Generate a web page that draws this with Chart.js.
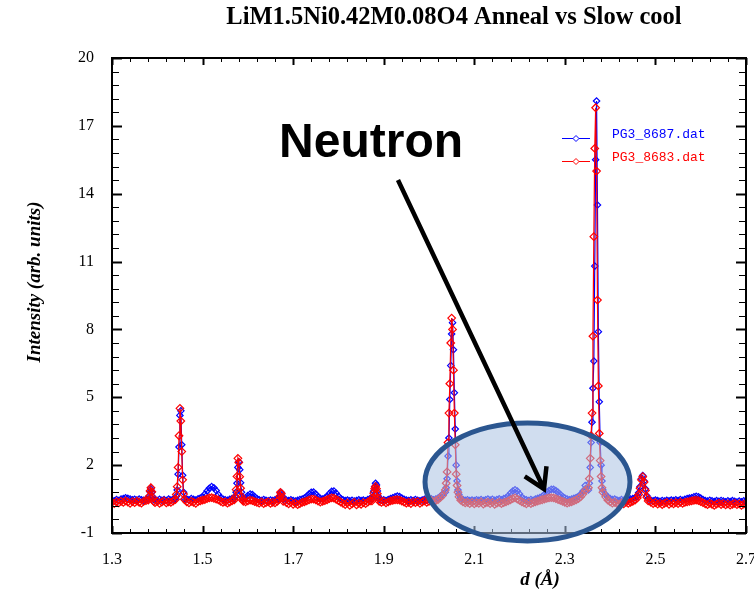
<!DOCTYPE html>
<html>
<head>
<meta charset="utf-8">
<title>LiM1.5Ni0.42M0.08O4 Anneal vs Slow cool</title>
<script src="https://cdn.jsdelivr.net/npm/chart.js@4.4.1/dist/chart.umd.min.js"></script>
<style>
  html, body { margin: 0; padding: 0; background: #fff; }
  #chart { display: block; }
</style>
</head>
<body>
<canvas id="chart" width="754" height="593"></canvas>
<script>
// d-spacing (Å) shared by both runs; finer steps across the Bragg peaks
const dSpacing = [
  1.300,1.305,1.310,1.315,1.320,1.325,1.330,1.335,1.340,1.345,1.350,1.355,1.360,1.365,1.370,1.375,
  1.380,1.382,1.384,1.386,1.388,1.390,1.392,
  1.395,1.400,1.405,1.410,1.415,1.420,1.425,1.430,1.435,
  1.440,1.442,1.444,1.446,1.448,1.450,1.452,1.454,1.456,1.458,1.460,
  1.465,1.470,1.475,1.480,1.485,1.490,1.495,1.500,1.505,1.510,1.515,1.520,1.525,1.530,1.535,1.540,1.545,1.550,1.555,1.560,1.565,
  1.570,1.572,1.574,1.576,1.578,1.580,1.582,1.584,1.586,1.588,1.590,
  1.595,1.600,1.605,1.610,1.615,1.620,1.625,1.630,1.635,1.640,1.645,1.650,1.655,1.660,1.665,
  1.668,1.670,1.672,1.674,1.676,1.678,
  1.685,1.690,1.695,1.700,1.705,1.710,1.715,1.720,1.725,1.730,1.735,1.740,1.745,1.750,1.755,1.760,1.765,1.770,1.775,1.780,1.785,1.790,1.795,1.800,1.805,1.810,1.815,1.820,1.825,1.830,1.835,1.840,1.845,1.850,1.855,1.860,1.865,1.870,
  1.874,1.876,1.878,1.880,1.882,1.884,1.886,1.888,1.890,
  1.895,1.900,1.905,1.910,1.915,1.920,1.925,1.930,1.935,1.940,1.945,1.950,1.955,1.960,1.965,1.970,1.975,1.980,1.985,1.990,1.995,2.000,2.005,2.010,2.015,2.020,2.025,2.030,
  2.036,2.038,2.040,2.042,2.044,2.046,2.048,2.050,2.052,2.054,2.056,2.058,2.060,2.062,2.064,2.066,
  2.070,2.075,2.080,2.085,2.090,2.095,2.100,2.105,2.110,2.115,2.120,2.125,2.130,2.135,2.140,2.145,2.150,2.155,2.160,2.165,2.170,2.175,2.180,2.185,2.190,2.195,2.200,2.205,
  2.210,2.215,2.220,2.225,2.230,2.235,2.240,2.245,2.250,2.255,2.260,2.265,2.270,2.275,2.280,2.285,2.290,2.295,2.300,2.305,2.310,2.315,2.320,2.325,2.330,2.335,2.340,2.345,
  2.352,2.354,2.356,2.358,2.360,2.362,2.364,2.366,2.368,2.370,2.372,2.374,2.376,2.378,2.380,2.382,2.384,
  2.390,2.395,2.400,2.405,2.410,2.415,2.420,2.425,2.430,2.435,2.440,2.445,2.450,2.455,
  2.460,2.463,2.466,2.469,2.472,2.475,2.478,2.481,2.484,
  2.490,2.495,2.500,2.505,2.510,2.515,2.520,2.525,2.530,2.535,2.540,2.545,2.550,2.555,2.560,2.565,2.570,2.575,2.580,2.585,2.590,2.595,2.600,2.605,2.610,2.615,2.620,2.625,2.630,2.635,2.640,2.645,2.650,2.655,2.660,2.665,2.670,2.675,2.680,2.685,2.690,2.695,2.700
];

// PG3_8687.dat (blue)
const pg3_8687 = [
  0.45,0.42,0.48,0.44,0.50,0.52,0.56,0.53,0.50,0.47,0.49,0.46,0.50,0.47,0.45,0.48,
  0.50,0.62,0.82,0.95,0.80,0.60,0.47,
  0.46,0.43,0.49,0.45,0.48,0.44,0.50,0.46,0.49,
  0.52,0.62,0.90,1.60,2.80,4.20,4.40,2.90,1.55,0.80,0.52,
  0.50,0.47,0.52,0.49,0.46,0.51,0.55,0.60,0.72,0.86,0.98,1.05,1.00,0.88,0.70,0.56,0.50,0.47,0.45,0.49,0.52,
  0.52,0.62,0.80,1.20,1.90,2.15,1.80,1.22,0.80,0.58,0.50,
  0.55,0.66,0.72,0.70,0.60,0.52,0.47,0.44,0.48,0.45,0.42,0.46,0.43,0.47,0.50,
  0.52,0.62,0.76,0.78,0.62,0.48,
  0.46,0.43,0.47,0.44,0.41,0.45,0.48,0.50,0.55,0.62,0.72,0.80,0.81,0.72,0.60,0.53,0.50,0.55,0.62,0.74,0.84,0.86,0.76,0.62,0.52,0.47,0.43,0.46,0.42,0.45,0.41,0.44,0.47,0.43,0.46,0.42,0.48,0.52,
  0.50,0.62,0.85,1.05,1.20,1.12,0.86,0.62,0.48,
  0.45,0.47,0.44,0.48,0.52,0.56,0.60,0.63,0.61,0.55,0.49,0.46,0.43,0.47,0.44,0.48,0.45,0.42,0.46,0.49,0.45,0.48,0.51,0.47,0.50,0.55,0.62,0.72,
  0.80,1.00,1.40,2.40,3.20,4.90,6.40,7.80,8.30,7.10,5.20,3.60,2.00,1.30,0.90,0.70,
  0.55,0.48,0.45,0.47,0.44,0.46,0.43,0.47,0.45,0.48,0.44,0.47,0.50,0.46,0.49,0.45,0.48,0.51,0.47,0.52,0.56,0.64,0.76,0.86,0.91,0.86,0.72,0.58,
  0.50,0.47,0.44,0.48,0.45,0.50,0.53,0.57,0.62,0.70,0.80,0.88,0.93,0.93,0.88,0.80,0.70,0.61,0.55,0.50,0.47,0.50,0.53,0.57,0.62,0.70,0.85,1.10,
  0.90,1.20,1.90,3.00,3.90,5.40,6.60,10.80,15.50,18.10,13.50,7.90,4.80,3.00,2.00,1.30,0.90,
  0.70,0.58,0.52,0.48,0.50,0.46,0.44,0.48,0.45,0.43,0.47,0.50,0.52,0.56,
  0.62,0.78,1.05,1.40,1.54,1.30,0.95,0.65,0.50,
  0.45,0.42,0.46,0.43,0.40,0.44,0.41,0.45,0.42,0.46,0.43,0.47,0.44,0.48,0.45,0.49,0.52,0.55,0.56,0.60,0.62,0.60,0.54,0.48,0.44,0.41,0.45,0.42,0.39,0.43,0.40,0.44,0.41,0.38,0.42,0.39,0.43,0.40,0.37,0.41,0.38,0.42,0.40
];

// PG3_8683.dat (red)
const pg3_8683 = [
  0.36,0.30,0.38,0.33,0.40,0.35,0.42,0.37,0.31,0.39,0.34,0.41,0.36,0.32,0.40,0.43,
  0.45,0.62,0.86,1.00,0.82,0.55,0.40,
  0.34,0.39,0.31,0.37,0.42,0.33,0.38,0.35,0.41,
  0.48,0.70,1.05,1.90,3.30,4.51,3.95,2.60,1.35,0.72,0.48,
  0.38,0.33,0.40,0.36,0.31,0.39,0.42,0.45,0.48,0.52,0.55,0.56,0.53,0.50,0.46,0.40,0.35,0.38,0.32,0.37,0.42,
  0.46,0.60,0.92,1.50,2.30,2.12,1.49,0.98,0.62,0.46,0.40,
  0.38,0.42,0.45,0.43,0.39,0.35,0.32,0.37,0.30,0.34,0.38,0.31,0.36,0.33,0.40,
  0.46,0.62,0.80,0.74,0.55,0.40,
  0.34,0.29,0.36,0.27,0.32,0.25,0.30,0.35,0.38,0.42,0.46,0.50,0.50,0.46,0.41,0.37,0.40,0.43,0.47,0.52,0.55,0.54,0.49,0.43,0.37,0.31,0.26,0.33,0.22,0.29,0.35,0.24,0.31,0.27,0.34,0.30,0.37,0.42,
  0.42,0.56,0.76,0.96,1.06,0.96,0.74,0.55,0.40,
  0.35,0.40,0.33,0.38,0.42,0.44,0.46,0.47,0.45,0.41,0.37,0.32,0.36,0.30,0.38,0.34,0.39,0.31,0.37,0.42,0.35,0.40,0.44,0.38,0.43,0.48,0.56,0.66,
  0.90,1.20,1.70,3.00,4.30,5.60,7.40,8.50,8.00,6.20,4.30,2.90,1.60,1.10,0.80,0.60,
  0.45,0.38,0.33,0.36,0.30,0.35,0.29,0.34,0.31,0.37,0.28,0.33,0.36,0.30,0.35,0.27,0.32,0.36,0.30,0.34,0.38,0.42,0.47,0.52,0.55,0.50,0.44,0.38,
  0.33,0.29,0.35,0.30,0.34,0.38,0.41,0.44,0.47,0.50,0.53,0.55,0.56,0.55,0.52,0.48,0.44,0.40,0.36,0.32,0.35,0.38,0.42,0.46,0.52,0.60,0.72,0.88,
  1.00,1.40,2.30,3.30,4.30,7.70,12.10,16.00,17.80,15.00,9.30,5.50,3.40,2.20,1.50,1.00,0.80,
  0.60,0.45,0.38,0.32,0.36,0.30,0.28,0.33,0.29,0.35,0.31,0.36,0.40,0.45,
  0.55,0.70,0.98,1.35,1.49,1.25,0.88,0.58,0.42,
  0.36,0.30,0.34,0.28,0.32,0.26,0.31,0.35,0.27,0.33,0.29,0.34,0.30,0.36,0.31,0.35,0.38,0.40,0.42,0.44,0.45,0.43,0.39,0.34,0.29,0.25,0.31,0.27,0.22,0.28,0.32,0.26,0.30,0.24,0.29,0.23,0.27,0.31,0.25,0.29,0.22,0.28,0.26
];

const xTicks = [1.3, 1.5, 1.7, 1.9, 2.1, 2.3, 2.5, 2.7];
const yTicks = [-1, 2, 5, 8, 11, 14, 17, 20];
const seriesNames = ["PG3_8687.dat", "PG3_8683.dat"];

const BLUE = "#0000ff";
const RED = "#ff0000";
const SERIF = '"Liberation Serif", "Times New Roman", serif';

function toPoints(values) {
  return dSpacing.map((d, i) => ({ x: d, y: values[i] }));
}

// inward ticks on all four sides + black frame
const frameTicks = {
  id: "frameTicks",
  afterDatasetsDraw(chart) {
    const { ctx, chartArea: a, scales } = chart;
    const x = scales.x, y = scales.y;
    ctx.save();
    ctx.strokeStyle = "#000";
    for (let i = 0; i <= 35; i++) {
      const major = i % 5 === 0;
      const len = major ? 7 : 4;
      const px = Math.round(x.getPixelForValue(1.3 + i * 0.04)) + 0.5;
      ctx.lineWidth = major ? 2 : 1;
      ctx.beginPath();
      ctx.moveTo(px, a.bottom); ctx.lineTo(px, a.bottom - len);
      ctx.moveTo(px, a.top); ctx.lineTo(px, a.top + len);
      ctx.stroke();
    }
    for (let i = 0; i <= 35; i++) {
      const major = i % 5 === 0;
      const len = major ? 10 : 7;
      const py = Math.round(y.getPixelForValue(-1 + i * 0.6)) + 0.5;
      ctx.lineWidth = major ? 2 : 1;
      ctx.beginPath();
      ctx.moveTo(a.left, py); ctx.lineTo(a.left + len, py);
      ctx.moveTo(a.right, py); ctx.lineTo(a.right - len, py);
      ctx.stroke();
    }
    ctx.lineWidth = 2;
    ctx.strokeRect(a.left, a.top, a.right - a.left, a.bottom - a.top);
    ctx.restore();
  }
};

function diamond(ctx, cx, cy, r) {
  ctx.beginPath();
  ctx.moveTo(cx, cy - r); ctx.lineTo(cx + r, cy);
  ctx.lineTo(cx, cy + r); ctx.lineTo(cx - r, cy);
  ctx.closePath();
  ctx.fillStyle = "#fff";
  ctx.fill();
  ctx.stroke();
}

// titles, legend and the highlighted region with its arrow
const overlay = {
  id: "overlay",
  afterDraw(chart) {
    const { ctx, scales } = chart;
    const X = v => scales.x.getPixelForValue(v);
    const Y = v => scales.y.getPixelForValue(v);
    ctx.save();

    ctx.fillStyle = "#000";
    ctx.textAlign = "center";
    ctx.textBaseline = "middle";
    ctx.font = "bold 24.5px " + SERIF;
    ctx.fillText("LiM1.5Ni0.42M0.08O4 Anneal vs Slow cool", 454, 18);

    ctx.font = "italic bold 19px " + SERIF;
    ctx.fillText("d (Å)", 540, 580);
    ctx.save();
    ctx.translate(35, 282);
    ctx.rotate(-Math.PI / 2);
    ctx.fillText("Intensity (arb. units)", 0, 0);
    ctx.restore();

    // legend
    const colors = [BLUE, RED];
    const rows = [138, 161];
    ctx.font = '13px "Liberation Mono", "DejaVu Sans Mono", monospace';
    ctx.textAlign = "left";
    ctx.lineWidth = 1;
    seriesNames.forEach((name, i) => {
      const ly = rows[i];
      ctx.strokeStyle = colors[i];
      ctx.beginPath();
      ctx.moveTo(562, ly + 0.5); ctx.lineTo(590, ly + 0.5);
      ctx.stroke();
      diamond(ctx, 576, ly + 0.5, 3);
      ctx.fillStyle = colors[i];
      ctx.fillText(name, 612, ly - 3);
    });

    // shaded ellipse around the weak reflections
    const cx = X(2.2175), cy = Y(1.255);
    const rx = X(2.2175 + 0.2263) - cx;
    const ry = cy - Y(1.255 + 2.608);
    ctx.beginPath();
    ctx.ellipse(cx, cy, rx, ry, 0, 0, Math.PI * 2);
    ctx.fillStyle = "rgba(170,193,226,0.55)";
    ctx.fill();
    ctx.lineWidth = 5;
    ctx.strokeStyle = "#2b5690";
    ctx.stroke();

    // arrow
    const x0 = X(1.9315), y0 = Y(14.61);
    const x1 = X(2.2539), y1 = Y(0.945);
    const ang = Math.atan2(y1 - y0, x1 - x0);
    const head = 23, spread = 0.55;
    ctx.strokeStyle = "#000";
    ctx.lineWidth = 4.5;
    ctx.lineJoin = "miter";
    ctx.beginPath();
    ctx.moveTo(x0, y0); ctx.lineTo(x1, y1);
    ctx.moveTo(x1 - head * Math.cos(ang - spread), y1 - head * Math.sin(ang - spread));
    ctx.lineTo(x1, y1);
    ctx.lineTo(x1 - head * Math.cos(ang + spread), y1 - head * Math.sin(ang + spread));
    ctx.stroke();

    ctx.fillStyle = "#000";
    ctx.textAlign = "center";
    ctx.textBaseline = "alphabetic";
    ctx.font = 'bold 48px "Liberation Sans", Arial, sans-serif';
    ctx.fillText("Neutron", X(1.872), Y(15.62));

    ctx.restore();
  }
};

const tickFont = { family: SERIF, size: 16 };

new Chart(document.getElementById("chart"), {
  type: "line",
  data: {
    datasets: [
      {
        label: seriesNames[0],
        data: toPoints(pg3_8687),
        borderColor: BLUE,
        borderWidth: 1.2,
        pointStyle: "rectRot",
        pointRadius: 3.2,
        pointBorderColor: BLUE,
        pointBackgroundColor: "rgba(0,0,0,0)",
        pointBorderWidth: 1.2,
        tension: 0,
        order: 1
      },
      {
        label: seriesNames[1],
        data: toPoints(pg3_8683),
        borderColor: RED,
        borderWidth: 1.2,
        pointStyle: "rectRot",
        pointRadius: 3.8,
        pointBorderColor: RED,
        pointBackgroundColor: "rgba(0,0,0,0)",
        pointBorderWidth: 1.2,
        tension: 0,
        order: 0
      }
    ]
  },
  options: {
    responsive: false,
    animation: false,
    events: [],
    layout: { padding: { left: 0, right: 8, top: 58, bottom: 0 } },
    plugins: {
      legend: { display: false },
      tooltip: { enabled: false },
      title: { display: false }
    },
    scales: {
      x: {
        type: "linear",
        min: 1.3,
        max: 2.7,
        afterBuildTicks: s => { s.ticks = xTicks.map(v => ({ value: v })); },
        afterFit: s => { s.height = 60; s.paddingLeft = 0; s.paddingRight = 0; },
        grid: { display: false, drawTicks: false },
        border: { display: false },
        ticks: {
          color: "#000",
          font: tickFont,
          padding: 17,
          maxRotation: 0,
          autoSkip: false,
          callback: v => Number(v).toFixed(1)
        }
      },
      y: {
        type: "linear",
        min: -1,
        max: 20,
        afterBuildTicks: s => { s.ticks = yTicks.map(v => ({ value: v })); },
        afterFit: s => { s.width = 112; s.paddingTop = 0; s.paddingBottom = 0; },
        grid: { display: false, drawTicks: false },
        border: { display: false },
        ticks: {
          color: "#000",
          font: tickFont,
          padding: 18,
          autoSkip: false,
          callback: v => String(v)
        }
      }
    }
  },
  plugins: [frameTicks, overlay]
});
</script>
</body>
</html>
